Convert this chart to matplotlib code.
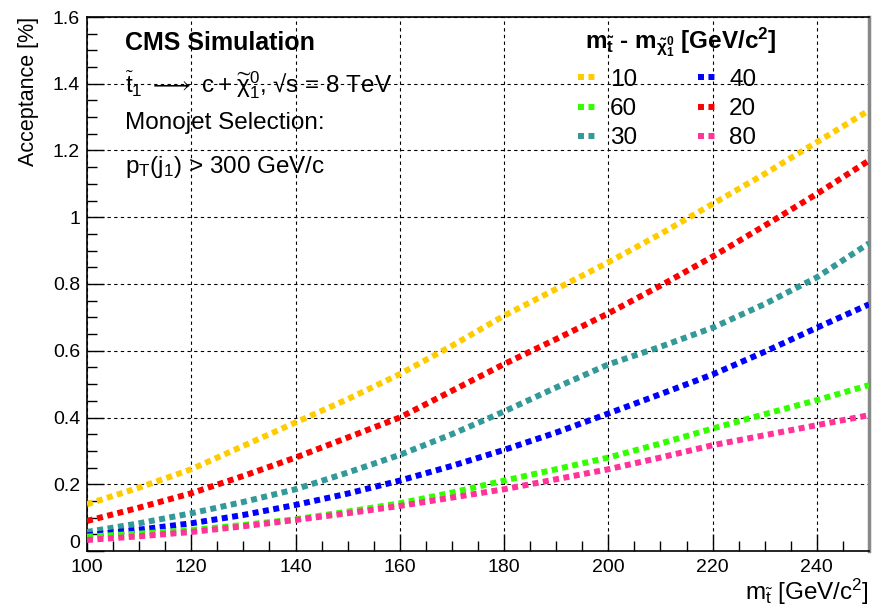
import matplotlib
matplotlib.use("Agg")
import matplotlib.pyplot as plt
from matplotlib.ticker import MultipleLocator, FuncFormatter
import matplotlib.transforms as mtransforms

plt.rcParams['font.family'] = ['Liberation Sans', 'DejaVu Sans']
plt.rcParams['mathtext.fontset'] = 'custom'
plt.rcParams['mathtext.rm'] = 'Liberation Sans'
plt.rcParams['mathtext.it'] = 'Liberation Sans'
plt.rcParams['mathtext.bf'] = 'Liberation Sans:bold'
plt.rcParams['mathtext.fallback'] = 'stixsans'

# ---- data ----
stop_mass = [100, 110, 120, 130, 140, 150, 160, 170, 180, 190, 200, 210, 220, 230, 240, 250]
acc_10 = [0.14, 0.19, 0.245, 0.315, 0.385, 0.455, 0.53, 0.615, 0.705, 0.785, 0.865, 0.95, 1.04, 1.13, 1.225, 1.32]
acc_20 = [0.09, 0.13, 0.173, 0.225, 0.28, 0.34, 0.40, 0.48, 0.56, 0.635, 0.712, 0.795, 0.882, 0.975, 1.07, 1.17]
acc_30 = [0.057, 0.083, 0.113, 0.147, 0.185, 0.235, 0.288, 0.35, 0.418, 0.49, 0.559, 0.612, 0.669, 0.74, 0.82, 0.922]
acc_40 = [0.047, 0.064, 0.083, 0.108, 0.138, 0.172, 0.211, 0.255, 0.303, 0.355, 0.412, 0.47, 0.529, 0.597, 0.669, 0.739]
acc_60 = [0.043, 0.052, 0.063, 0.078, 0.095, 0.118, 0.143, 0.175, 0.211, 0.245, 0.28, 0.322, 0.367, 0.41, 0.452, 0.497]
acc_80 = [0.033, 0.044, 0.057, 0.074, 0.093, 0.113, 0.135, 0.16, 0.185, 0.215, 0.245, 0.28, 0.317, 0.347, 0.377, 0.407]

labels = ['10', '60', '30', '40', '20', '80']
series = [acc_10, acc_60, acc_30, acc_40, acc_20, acc_80]
colors = ['#ffcc00', '#33ff00', '#339999', '#0000ff', '#ff0000', '#ff3399']
draw_order = [0, 4, 2, 3, 1, 5]

fig = plt.figure(figsize=(8.72, 6.11), dpi=100)
ax = fig.add_axes([87/872, 1-551/611, (869-87)/872, (551-17)/611])

handles = [None]*6
for i in draw_order:
    ln, = ax.plot(stop_mass, series[i], color=colors[i], lw=4.3,
                  linestyle=(0, (1.0, 0.75)), dash_capstyle='butt',
                  solid_capstyle='butt', label=labels[i], zorder=3)
    handles[i] = ln

ax.set_xlim(100, 250)
ax.set_ylim(0, 1.6)
ax.xaxis.set_major_locator(MultipleLocator(20))
ax.xaxis.set_minor_locator(MultipleLocator(5))
ax.yaxis.set_major_locator(MultipleLocator(0.2))
ax.yaxis.set_minor_locator(MultipleLocator(0.05))
ax.yaxis.set_major_formatter(FuncFormatter(lambda v, p: ('%g' % round(v, 2))))
ax.tick_params(which='both', direction='in', top=False, right=False, labelsize=14, color='black')
ax.tick_params(which='major', length=12, width=1)
ax.tick_params(which='minor', length=7, width=1)
ax.tick_params(axis='x', pad=6)
ax.tick_params(axis='y', pad=5)

ax.grid(True, which='major', color='black', linestyle=(0, (3, 3)), linewidth=0.8, zorder=1)
for s in ['left', 'bottom', 'top']:
    ax.spines[s].set_color('black')
    ax.spines[s].set_linewidth(1.2)
ax.spines['right'].set_color('#888888')
ax.spines['right'].set_linewidth(2.5)

ax.set_ylabel('Acceptance [%]', fontsize=15.5, loc='top', labelpad=10)
ax.set_xlabel(r'm$_{\tilde{\mathrm{t}}}$ [GeV/c$^{2}$]', fontsize=17.5, loc='right', labelpad=0)

# lift the "0" y tick label a little (as in the reference)
fig.canvas.draw()
for lab in ax.get_yticklabels():
    if lab.get_text() == '0':
        lab.set_transform(lab.get_transform() + mtransforms.ScaledTranslation(0, 10/100, fig.dpi_scale_trans))

tx = 0.048
ax.text(tx, 0.952, 'CMS Simulation', transform=ax.transAxes, fontsize=18,
        fontweight='bold', va='center', ha='left')
ax.text(tx, 0.873, r'$\widetilde{\mathrm{t}}_{1}\ \longrightarrow\ \mathrm{c} + \widetilde{\chi}^{0}_{1}$, √s = 8 TeV',
        transform=ax.transAxes, fontsize=17.5, va='center', ha='left')
ax.text(tx, 0.801, 'Monojet Selection:', transform=ax.transAxes, fontsize=17.5,
        va='center', ha='left')
ax.text(tx, 0.72, r'p$_{\mathrm{T}}$(j$_{1}$) > 300 GeV/c', transform=ax.transAxes,
        fontsize=17.5, va='center', ha='left')

# legend header
ax.text(0.637, 0.953,
        r'$\mathbf{m_{\tilde{t}}}$ - $\mathbf{m_{\tilde{\chi}^{0}_{1}}}$ [GeV/c$^{\mathbf{2}}$]',
        transform=ax.transAxes, fontsize=17.5, fontweight='bold', va='center', ha='left')

leg = ax.legend(handles=handles, labels=labels, ncol=2, loc='upper left',
                bbox_to_anchor=(0.6, 0.944), frameon=False, fontsize=17.5,
                handlelength=0.7, handletextpad=0.6, columnspacing=2.5,
                labelspacing=0.30)

fig.savefig('out.png', dpi=100, facecolor='white')
